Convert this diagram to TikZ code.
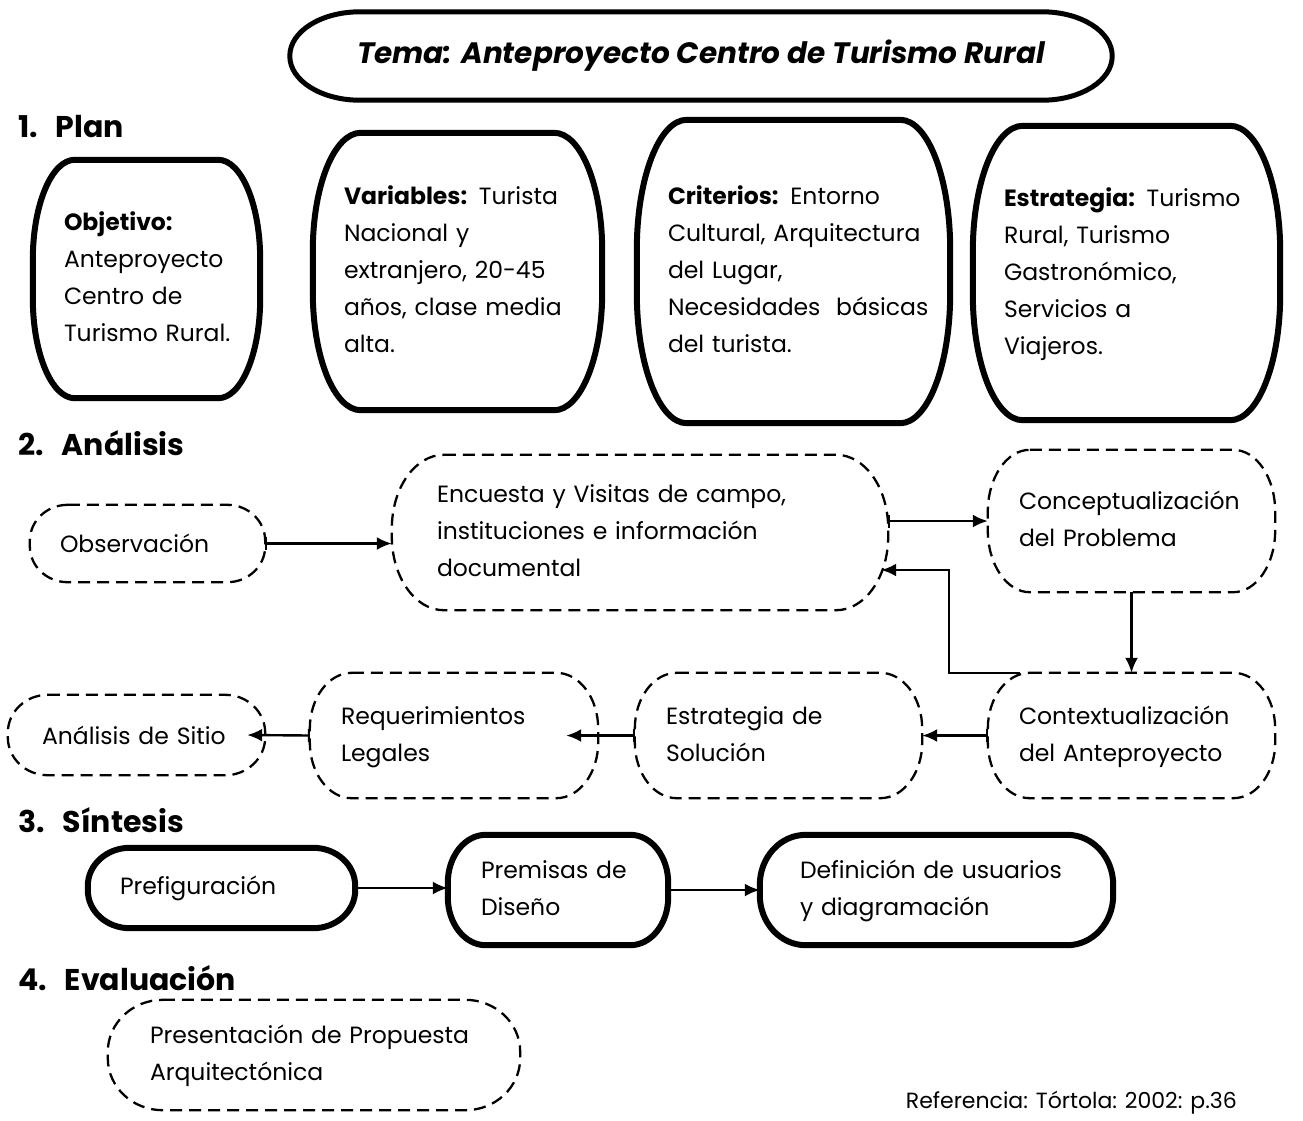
\documentclass[tikz,border=0pt]{standalone}
\usepackage{fontspec}
\setmainfont{Poppins}
\usetikzlibrary{arrows.meta}

\newcommand{\textoCuerpo}{\fontsize{23.5}{37}\selectfont}
\newcommand{\textoTitulo}{\fontsize{30}{34}\selectfont\bfseries}

% contorno con esquinas elipticas: estilo, nodo, radio x, radio y
\newcommand{\barril}[4]{%
  \draw [#1] ([xshift=#3]#2.north west) -- ([xshift=-#3]#2.north east)
    arc [start angle=90, end angle=0, x radius=#3, y radius=#4]
    -- ([yshift=#4]#2.south east)
    arc [start angle=0, end angle=-90, x radius=#3, y radius=#4]
    -- ([xshift=#3]#2.south west)
    arc [start angle=270, end angle=180, x radius=#3, y radius=#4]
    -- ([yshift=-#4]#2.north west)
    arc [start angle=180, end angle=90, x radius=#3, y radius=#4] -- cycle;}

\tikzset{
  caja/.style = {align=left, inner xsep=31pt, inner ysep=0pt, font=\textoCuerpo},
  seccion/.style = {anchor=west, font=\textoTitulo, inner sep=0pt},
  grueso/.style = {line width=6pt},
  trazos/.style = {line width=2.3pt, dash pattern=on 12pt off 7pt},
  flecha/.style = {line width=2.4pt, -{Latex[length=15pt,width=13pt]}},
  barra/.style = {flecha, {Bar[width=13pt,line width=2pt]}-{Latex[length=15pt,width=13pt]}}
}

\begin{document}
\begin{tikzpicture}[x=1pt, y=-1pt]
  \useasboundingbox (0,0) rectangle (1303,1120);

  % titulo
  \node (tituloTema) [minimum width=822, minimum height=88, font=\fontsize{29.5}{34}\selectfont\bfseries\itshape] at (701,56) {Tema: Anteproyecto Centro de Turismo Rural};
  \barril{line width=5pt}{tituloTema}{70pt}{44pt}

  % 1. Plan
  \node (secPlan) [seccion] at (18,127) {1.\hspace{18pt}Plan};
  \node (objetivo) [caja, minimum width=227, minimum height=238, text width=165] at (146.5,279) {\begin{tabular}{@{}l@{}}\textbf{Objetivo:}\\Anteproyecto\\Centro de\\Turismo Rural.\end{tabular}};
  \node (variables) [caja, minimum width=289, minimum height=277, text width=227] at (457.5,271.5) {\begin{tabular}{@{}l@{}}\textbf{Variables:} Turista\\Nacional y\\extranjero, 20-45\\años, clase media\\alta.\end{tabular}};
  \node (criterios) [caja, minimum width=313, minimum height=303, text width=251] at (793.5,271.5) {\begin{tabular}{@{}l@{}}\textbf{Criterios:} Entorno\\Cultural, Arquitectura\\del Lugar,\\Necesidades~ básicas\\del turista.\end{tabular}};
  \node (estrategiaPlan) [caja, minimum width=307, minimum height=294, text width=245] at (1126.5,273) {\begin{tabular}{@{}l@{}}\textbf{Estrategia:} Turismo\\Rural, Turismo\\Gastronómico,\\Servicios a\\Viajeros.\end{tabular}};
  \barril{grueso}{objetivo}{42pt}{100pt}
  \barril{grueso}{variables}{48pt}{118pt}
  \barril{grueso}{criterios}{50pt}{130pt}
  \barril{grueso}{estrategiaPlan}{50pt}{126pt}

  % 2. Analisis
  \node (secAnalisis) [seccion] at (18,443) {2.\hspace{18pt}Análisis};
  \node (observacion) [caja, minimum width=235, minimum height=77, text width=175, inner xsep=30pt] at (147.5,543.5) {Observación};
  \node (encuesta) [caja, minimum width=496, minimum height=155, text width=406, inner xsep=45pt] at (640,532.5) {\begin{tabular}{@{}l@{}}Encuesta y Visitas de campo,\\instituciones e información\\documental\end{tabular}};
  \node (concepto) [caja, minimum width=287, minimum height=142, text width=225] at (1131.5,521) {\begin{tabular}{@{}l@{}}Conceptualización\\del Problema\end{tabular}};
  \node (contexto) [caja, minimum width=287, minimum height=125, text width=225] at (1131.5,735.5) {\begin{tabular}{@{}l@{}}Contextualización\\del Anteproyecto\end{tabular}};
  \node (solucion) [caja, minimum width=287, minimum height=125, text width=225] at (778.5,735.5) {\begin{tabular}{@{}l@{}}Estrategia de\\Solución\end{tabular}};
  \node (requisitos) [caja, minimum width=288, minimum height=125, text width=226] at (454,735.5) {\begin{tabular}{@{}l@{}}Requerimientos\\Legales\end{tabular}};
  \node (sitio) [caja, minimum width=257, minimum height=80, text width=189, inner xsep=34pt] at (136.5,735) {Análisis de Sitio};
  \barril{trazos}{observacion}{38pt}{36pt}
  \barril{trazos}{encuesta}{52pt}{74pt}
  \barril{trazos}{concepto}{42pt}{62pt}
  \barril{trazos}{contexto}{42pt}{56pt}
  \barril{trazos}{solucion}{42pt}{56pt}
  \barril{trazos}{requisitos}{42pt}{56pt}
  \barril{trazos}{sitio}{40pt}{38pt}

  \draw [barra] (observacion.east) -- (observacion.east -| encuesta.west);
  \draw [barra] (encuesta.east |- concepto.west) -- (concepto.west);
  \draw [flecha] (concepto.south) -- (contexto.north);
  \draw [flecha] ([xshift=32pt]contexto.north west) -- ++(-71,0) |- ([xshift=-7pt,yshift=-37.5pt]encuesta.east);
  \draw [barra] (contexto.west) -- (solucion.east);
  \draw [barra] (solucion.west) -- ([xshift=-32pt]requisitos.east);
  \draw [barra] (requisitos.west) -- ([xshift=-18pt]sitio.east);

  % 3. Sintesis
  \node (secSintesis) [seccion] at (18,820) {3.\hspace{18pt}Síntesis};
  \node (prefiguracion) [caja, minimum width=267, minimum height=80, text width=203] at (221.5,888) {Prefiguración};
  \node (premisas) [caja, minimum width=220, minimum height=110, text width=154, inner xsep=33pt] at (558,890) {\begin{tabular}{@{}l@{}}Premisas de\\Diseño\end{tabular}};
  \node (definicion) [caja, minimum width=353, minimum height=110, text width=273, inner xsep=40pt] at (936.5,890) {\begin{tabular}{@{}l@{}}Definición de usuarios\\y diagramación\end{tabular}};
  \barril{grueso}{prefiguracion}{42pt}{38pt}
  \barril{grueso}{premisas}{38pt}{48pt}
  \barril{grueso}{definicion}{46pt}{50pt}

  \draw [flecha] (prefiguracion.east) -- (prefiguracion.east -| premisas.west);
  \draw [flecha] (premisas.east) -- (definicion.west);

  % 4. Evaluacion
  \node (secEvaluacion) [seccion] at (18,978) {4.\hspace{18pt}Evaluación};
  \node (propuesta) [caja, minimum width=412, minimum height=110, text width=328, inner xsep=42pt] at (314,1055) {\begin{tabular}{@{}l@{}}Presentación de Propuesta\\Arquitectónica\end{tabular}};
  \barril{trazos}{propuesta}{55pt}{52pt}

  \node (referencia) [anchor=east, font=\fontsize{22}{26}\selectfont, inner sep=0pt] at (1237,1103) {Referencia: Tórtola: 2002: p.36};
\end{tikzpicture}
\end{document}
